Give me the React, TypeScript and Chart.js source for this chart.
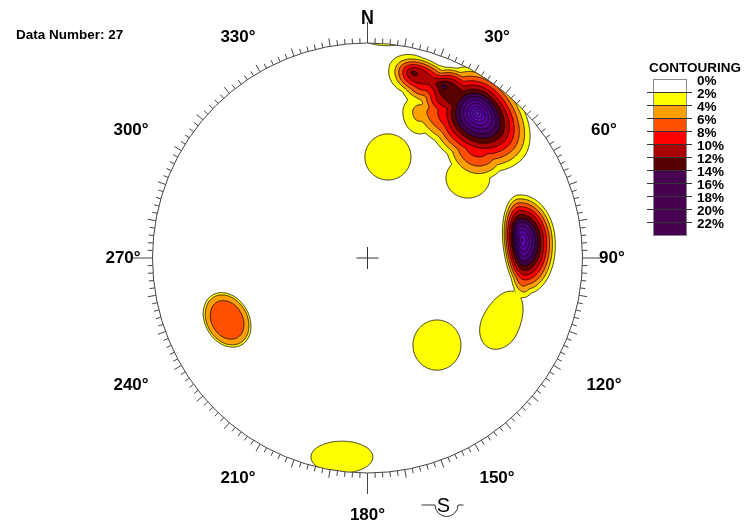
import React, { useEffect, useRef } from "react";
import { Chart, registerables } from "chart.js";

Chart.register(...registerables);

// ---------- data ----------
const dataNumber = 27;

// contour levels (%) and the fill colour of each band in the net
const contourLevels = [2, 4, 6, 8, 10, 12, 14, 16, 18, 20, 22, 24, 26, 28];
const contourColors = [
  "#ffff00", "#ffa000", "#ff5000", "#ff0000", "#b00000", "#580000",
  "#3e0048", "#4a0070", "#520088", "#58009c", "#5c06ac", "#620eb8", "#6818c4", "#6c1ecc",
];

// legend rows
const legendLabels = ["0%", "2%", "4%", "6%", "8%", "10%", "12%", "14%", "16%", "18%", "20%", "22%"];
const legendColors = [
  "#ffffff", "#ffff00", "#ffa000", "#ff5000", "#ff0000", "#aa0000", "#550000",
  "#480050", "#480050", "#480050", "#480050", "#480050",
];

// azimuth labels around the primitive
const azimuthAngles = [0, 30, 60, 90, 120, 150, 180, 210, 240, 270, 300, 330];
const azimuthLabels = ["N", "30°", "60°", "90°", "120°", "150°", "180°", "210°", "240°", "270°", "300°", "330°"];

// density concentrations (unit-circle net coordinates, % density)
const peakX = [0.512, 0.347, 0.207, 0.244, 0.467, 0.095, 0.091, -0.119, 0.323, 0.616, 0.719, -0.653];
const peakY = [0.674, 0.805, 0.865, 0.679, 0.372, 0.470, 1.033, -0.926, -0.405, -0.312, 0.084, -0.288];
const peakValue = [29, 10.5, 9, 5.5, 3.6, 3.2, 3.5, 3.2, 3.2, 3.2, 25, 6.4];
const peakAngle = [-48, -20, -15, 0, 0, 0, 0, 0, 0, 65, 5, -60];
const peakReachA1 = [0.33, 0.102, 0.14, 0.125, 0.153, 0.149, 0.186, 0.2, 0.155, 0.235, 0.167, 0.142];
const peakReachA2 = [0.26, 0.233, 0.14, 0.125, 0.153, 0.149, 0.186, 0.2, 0.155, 0.163, 0.098, 0.142];
const peakReachB1 = [0.21, 0.102, 0.102, 0.125, 0.14, 0.149, 0.07, 0.103, 0.162, 0.123, 0.228, 0.108];
const peakReachB2 = [0.26, 0.116, 0.13, 0.16, 0.14, 0.149, 0.07, 0.103, 0.162, 0.123, 0.275, 0.108];
const peakPower = [0.7, 1, 1, 1, 2, 3, 2, 3, 3, 3, 1, 7];

// ---------- density + contouring ----------
function density(x: number, y: number): number {
  let s = 0;
  for (let k = 0; k < peakX.length; k++) {
    const dx = x - peakX[k];
    const dy = y - peakY[k];
    const t = (peakAngle[k] * Math.PI) / 180;
    const c = Math.cos(t);
    const sn = Math.sin(t);
    const u = dx * c + dy * sn;
    const v = -dx * sn + dy * c;
    const su = u >= 0 ? peakReachA1[k] : peakReachA2[k];
    const sv = v >= 0 ? peakReachB1[k] : peakReachB2[k];
    const r = Math.hypot(u / su, v / sv);
    if (r < 1) s += peakValue[k] * (1 - Math.pow(r, peakPower[k]));
  }
  return s;
}

type Pt = { x: number; y: number };

function buildGrid() {
  const step = 2 / 215;
  const lo = -1.2;
  const n = Math.ceil((2 * -lo) / step) + 1;
  const g = new Float64Array(n * n);
  for (let j = 0; j < n; j++) {
    for (let i = 0; i < n; i++) {
      if (i === 0 || j === 0 || i === n - 1 || j === n - 1) continue;
      g[j * n + i] = density(lo + i * step, lo + j * step);
    }
  }
  return { g, n, lo, step };
}

const CASES: Record<number, number[][]> = {
  1: [[3, 0]], 2: [[0, 1]], 3: [[3, 1]], 4: [[1, 2]], 6: [[0, 2]], 7: [[3, 2]],
  8: [[3, 2]], 9: [[0, 2]], 11: [[1, 2]], 12: [[3, 1]], 13: [[0, 1]], 14: [[3, 0]],
};

function traceLevel(grid: { g: Float64Array; n: number; lo: number; step: number }, L: number): Pt[][] {
  const { g, n, lo, step } = grid;
  const at = (i: number, j: number) => g[j * n + i];
  const segA: number[] = [];
  const segB: number[] = [];
  for (let j = 0; j < n - 1; j++) {
    for (let i = 0; i < n - 1; i++) {
      const v0 = at(i, j), v1 = at(i + 1, j), v2 = at(i + 1, j + 1), v3 = at(i, j + 1);
      const idx = (v0 >= L ? 1 : 0) | (v1 >= L ? 2 : 0) | (v2 >= L ? 4 : 0) | (v3 >= L ? 8 : 0);
      if (idx === 0 || idx === 15) continue;
      const e = [(j * n + i) * 2, ((j * n + i + 1) * 2) + 1, ((j + 1) * n + i) * 2, (j * n + i) * 2 + 1];
      let segs: number[][];
      if (idx === 5 || idx === 10) {
        const center = (v0 + v1 + v2 + v3) / 4 >= L;
        if (idx === 5) segs = center ? [[3, 2], [0, 1]] : [[3, 0], [1, 2]];
        else segs = center ? [[3, 0], [1, 2]] : [[0, 1], [3, 2]];
      } else segs = CASES[idx];
      for (const s of segs) {
        segA.push(e[s[0]]);
        segB.push(e[s[1]]);
      }
    }
  }
  const adj = new Map<number, number[]>();
  for (let s = 0; s < segA.length; s++) {
    for (const k of [segA[s], segB[s]]) {
      const l = adj.get(k);
      if (l) l.push(s);
      else adj.set(k, [s]);
    }
  }
  const pos = (key: number): Pt => {
    const base = Math.floor(key / 2);
    const i = base % n;
    const j = Math.floor(base / n);
    if (key % 2 === 0) {
      const a = at(i, j), b = at(i + 1, j);
      const t = (L - a) / (b - a);
      return { x: lo + (i + t) * step, y: lo + j * step };
    }
    const a = at(i, j), b = at(i, j + 1);
    const t = (L - a) / (b - a);
    return { x: lo + i * step, y: lo + (j + t) * step };
  };
  const used = new Uint8Array(segA.length);
  const loops: Pt[][] = [];
  for (let s = 0; s < segA.length; s++) {
    if (used[s]) continue;
    used[s] = 1;
    const start = segA[s];
    let cur = segB[s];
    const keys = [start, cur];
    let guard = 0;
    while (cur !== start && guard++ < 100000) {
      const list = adj.get(cur) || [];
      let next = -1;
      for (const t of list) if (!used[t]) { next = t; break; }
      if (next < 0) break;
      used[next] = 1;
      cur = segA[next] === cur ? segB[next] : segA[next];
      keys.push(cur);
    }
    if (keys.length > 3) loops.push(keys.map(pos));
  }
  return loops;
}

// ---------- decoration plugin ----------
const FONT = "'Liberation Sans', Arial, Helvetica, sans-serif";

function geom(chart: any) {
  const xs = chart.scales.x;
  const ys = chart.scales.y;
  const cx = xs.getPixelForValue(0);
  const cy = ys.getPixelForValue(0);
  const R = xs.getPixelForValue(1) - cx;
  return { cx, cy, R };
}

const labelRadiusX: Record<number, number> = { 0: 0, 30: 1.205, 60: 1.27, 90: 1.137 };
const labelRadiusY: Record<number, number> = { 0: 1.117, 30: 1.185, 60: 1.186, 90: 0 };

const stereonetPlugin = {
  id: "stereonet",
  beforeDatasetsDraw(chart: any) {
    const { ctx } = chart;
    const { cx, cy, R } = geom(chart);
    ctx.save();
    ctx.beginPath();
    ctx.arc(cx, cy, R, 0, Math.PI * 2);
    ctx.clip();
  },
  afterDatasetsDraw(chart: any) {
    const { ctx } = chart;
    ctx.restore();
    const { cx, cy, R } = geom(chart);

    // primitive circle
    ctx.save();
    ctx.strokeStyle = "#444";
    ctx.lineWidth = 1;
    ctx.beginPath();
    ctx.arc(cx, cy, R, 0, Math.PI * 2);
    ctx.stroke();

    // ticks
    for (let d = 0; d < 360; d += 2) {
      const len = d % 90 === 0 ? 21 : d % 10 === 0 ? 8 : 5;
      const a = (d * Math.PI) / 180;
      const sx = Math.sin(a), sy = -Math.cos(a);
      ctx.strokeStyle = "#444";
      ctx.beginPath();
      ctx.moveTo(cx + sx * R, cy + sy * R);
      ctx.lineTo(cx + sx * (R + len), cy + sy * (R + len));
      ctx.stroke();
    }

    // centre cross
    ctx.strokeStyle = "#333";
    ctx.beginPath();
    ctx.moveTo(cx - 11, cy);
    ctx.lineTo(cx + 11, cy);
    ctx.moveTo(cx, cy - 11);
    ctx.lineTo(cx, cy + 11);
    ctx.stroke();

    // azimuth labels
    ctx.fillStyle = "#000";
    ctx.textAlign = "center";
    ctx.textBaseline = "middle";
    azimuthAngles.forEach((deg, i) => {
      const a = (deg * Math.PI) / 180;
      const m = deg % 180;
      const base = m > 90 ? 180 - m : m;
      let ky = labelRadiusY[base];
      if (deg === 180) ky = 1.195;
      const kx = labelRadiusX[base];
      const x = cx + Math.sin(a) * kx * R;
      const y = cy - Math.cos(a) * ky * R;
      if (deg === 0) {
        ctx.font = `bold 21px ${FONT}`;
        ctx.save();
        ctx.translate(x, y);
        ctx.scale(0.85, 1);
        ctx.fillText(azimuthLabels[i], 0, 0);
        ctx.restore();
      } else {
        ctx.font = `bold 17px ${FONT}`;
        ctx.fillText(azimuthLabels[i], x, y);
      }
    });

    // south symbol
    const sy0 = cy + R + 32;
    const sx0 = cx + 79;
    ctx.strokeStyle = "#333";
    ctx.lineWidth = 1;
    ctx.beginPath();
    ctx.moveTo(sx0 - 25, sy0);
    ctx.lineTo(sx0 - 11.5, sy0);
    ctx.arc(sx0, sy0, 11.5, Math.PI, 0, true);
    ctx.lineTo(sx0 + 17, sy0);
    ctx.stroke();
    ctx.font = `20px ${FONT}`;
    ctx.fillText("S", sx0 - 3, sy0 + 1);

    // data number
    ctx.textAlign = "left";
    ctx.font = `bold 13.5px ${FONT}`;
    ctx.fillText(`Data Number: ${dataNumber}`, 16, 35);

    // legend
    const lx = 653, lw = 33, ly = 79, rh = 13;
    ctx.textAlign = "center";
    ctx.font = `bold 13.5px ${FONT}`;
    ctx.fillText("CONTOURING", 695, 68);
    legendColors.forEach((c, i) => {
      ctx.fillStyle = c;
      ctx.fillRect(lx, ly + i * rh, lw, rh);
    });
    ctx.strokeStyle = "#888";
    ctx.strokeRect(lx + 0.5, ly + 0.5, lw, legendColors.length * rh);
    ctx.strokeStyle = "#333";
    for (let i = 1; i < legendColors.length; i++) {
      const y = Math.round(ly + i * rh) + 0.5;
      ctx.beginPath();
      ctx.moveTo(lx - 6, y);
      ctx.lineTo(lx + lw + 6, y);
      ctx.stroke();
    }
    ctx.fillStyle = "#000";
    ctx.textAlign = "left";
    ctx.font = `bold 13.5px ${FONT}`;
    legendLabels.forEach((t, i) => {
      ctx.fillText(t, lx + lw + 11, ly + i * rh + 2);
    });
    ctx.restore();
  },
};

export default function App() {
  const ref = useRef<HTMLCanvasElement | null>(null);
  useEffect(() => {
    if (!ref.current) return;
    const grid = buildGrid();
    const datasets: any[] = [];
    contourLevels.forEach((L, li) => {
      const loops = traceLevel(grid, L);
      loops.forEach((loop) => {
        datasets.push({
          type: "line",
          data: loop.concat([loop[0]]),
          fill: "shape",
          backgroundColor: contourColors[li],
          borderColor: "#000",
          borderWidth: 0.8,
          pointRadius: 0,
          tension: 0.05,
        });
      });
    });
    datasets.forEach((d, i) => (d.order = -i));
    const chart = new Chart(ref.current, {
      type: "line",
      data: { datasets },
      options: {
        animation: false,
        responsive: false,
        devicePixelRatio: 1,
        events: [],
        layout: { padding: { left: 152.5, right: 162.5, top: 43, bottom: 54 } },
        scales: {
          x: { type: "linear", min: -1, max: 1, display: false },
          y: { type: "linear", min: -1, max: 1, display: false },
        },
        plugins: { legend: { display: false }, tooltip: { enabled: false } },
      },
      plugins: [stereonetPlugin],
    });
    return () => chart.destroy();
  }, []);
  return (
    <div style={{ position: "absolute", left: 0, top: 0, width: 745, height: 527, background: "#fff" }}>
      <canvas ref={ref} width={745} height={527} style={{ display: "block" }} />
    </div>
  );
}
